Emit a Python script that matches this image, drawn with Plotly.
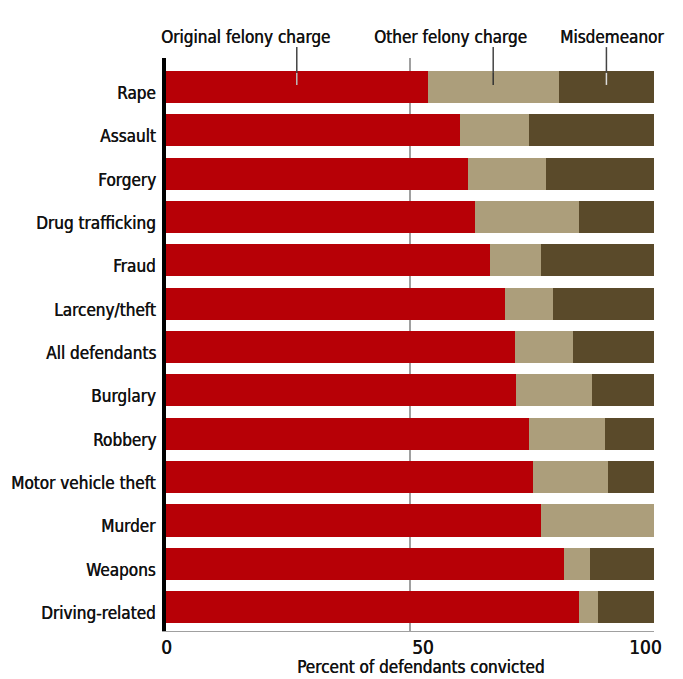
import plotly.graph_objects as go

categories = ["Rape", "Assault", "Forgery", "Drug trafficking", "Fraud", "Larceny/theft",
              "All defendants", "Burglary", "Robbery", "Motor vehicle theft", "Murder",
              "Weapons", "Driving-related"]
original_felony = [53.6, 60.2, 61.9, 63.3, 66.4, 69.5, 71.5, 71.7, 74.4, 75.2, 76.8, 81.6, 84.6]
other_felony = [26.9, 14.2, 16.0, 21.3, 10.4, 9.8, 11.9, 15.6, 15.6, 15.4, 23.2, 5.3, 3.9]
misdemeanor = [19.5, 25.6, 22.1, 15.4, 23.2, 20.7, 16.6, 12.7, 10.0, 9.4, 0.0, 13.1, 11.5]
series_names = ["Original felony charge", "Other felony charge", "Misdemeanor"]
tick_values = [0, 50, 100]
tick_labels = ["0", "50", "100"]
x_title = "Percent of defendants convicted"

colors = ["#B70006", "#AC9E7B", "#5A4A2A"]
FONT = "DejaVu Sans Condensed, Roboto"
TXT = "#111111"
SHADOW = "0.45px 0 0 #111111"

fig = go.Figure()
for name, vals, col in zip(series_names, [original_felony, other_felony, misdemeanor], colors):
    fig.add_trace(go.Bar(
        y=list(range(len(categories))), x=vals, name=name, orientation="h",
        marker=dict(color=col, line=dict(width=0)), showlegend=False,
        hoverinfo="x+name"))

# leader lines at midpoints of the top bar segments
starts = [0, original_felony[0], original_felony[0] + other_felony[0]]
widths = [original_felony[0], other_felony[0], misdemeanor[0]]
inner_cols = ["#BBBBBB", "#333333", "#DDDDDD"]
shapes = []
for s, w, ic in zip(starts, widths, inner_cols):
    mx = s + w / 2
    shapes.append(dict(type="line", xref="x", yref="paper", x0=mx, x1=mx,
                       y0=0.974, y1=1.019, line=dict(color="#444444", width=1.5)))
    shapes.append(dict(type="line", xref="x", yref="paper", x0=mx, x1=mx,
                       y0=0.953, y1=0.974, line=dict(color=ic, width=1.5)))

def tfont(size):
    return dict(family=FONT, size=size, color=TXT, shadow=SHADOW)

annotations = [
    dict(text=series_names[0], xref="paper", yref="paper", x=0.162, y=1.037,
         showarrow=False, xanchor="center", yanchor="middle", font=tfont(17)),
    dict(text=series_names[1], xref="paper", yref="paper", x=0.584, y=1.037,
         showarrow=False, xanchor="center", yanchor="middle", font=tfont(17)),
    dict(text=series_names[2], xref="paper", yref="paper", x=0.914, y=1.037,
         showarrow=False, xanchor="center", yanchor="middle", font=tfont(17)),
    dict(text=x_title, xref="paper", yref="paper", x=0.522, y=-0.063,
         showarrow=False, xanchor="center", yanchor="middle", font=tfont(17)),
]
# category labels (slightly below bar centres, as in the reference)
for i, c in enumerate(categories):
    annotations.append(dict(text=c, xref="paper", yref="y", x=0, y=i, xshift=-8, yshift=-6,
                            showarrow=False, xanchor="right", yanchor="middle", font=tfont(17)))
# x tick labels
tick_shift = [0, 13, -9]
for v, t, sh in zip(tick_values, tick_labels, tick_shift):
    annotations.append(dict(text=t, xref="x", yref="paper", x=v, y=0, xshift=sh, yshift=-16,
                            showarrow=False, xanchor="center", yanchor="middle", font=tfont(19)))

# page body has an 8px margin: shift the figure to land on the same pixels
fig.update_layout(
    width=675, height=671,
    margin=dict(l=158, r=29, t=50, b=48, autoexpand=False),
    barmode="stack", bargap=0.26,
    plot_bgcolor="white", paper_bgcolor="white",
    font=dict(family=FONT, size=17, color=TXT),
    shapes=shapes, annotations=annotations,
    xaxis=dict(range=[0, 100], tickvals=tick_values, showticklabels=False,
               showgrid=True, gridcolor="#A0A0A0", gridwidth=1.5,
               showline=True, linecolor="#A0A0A0", linewidth=1.2,
               zeroline=False, ticks="", fixedrange=True),
    yaxis=dict(range=[12.55, -0.67], tickvals=list(range(len(categories))),
               showticklabels=False, showgrid=False, zeroline=False,
               showline=True, linecolor="black", linewidth=4,
               ticks="", fixedrange=True),
)

fig.write_html("out.html")
